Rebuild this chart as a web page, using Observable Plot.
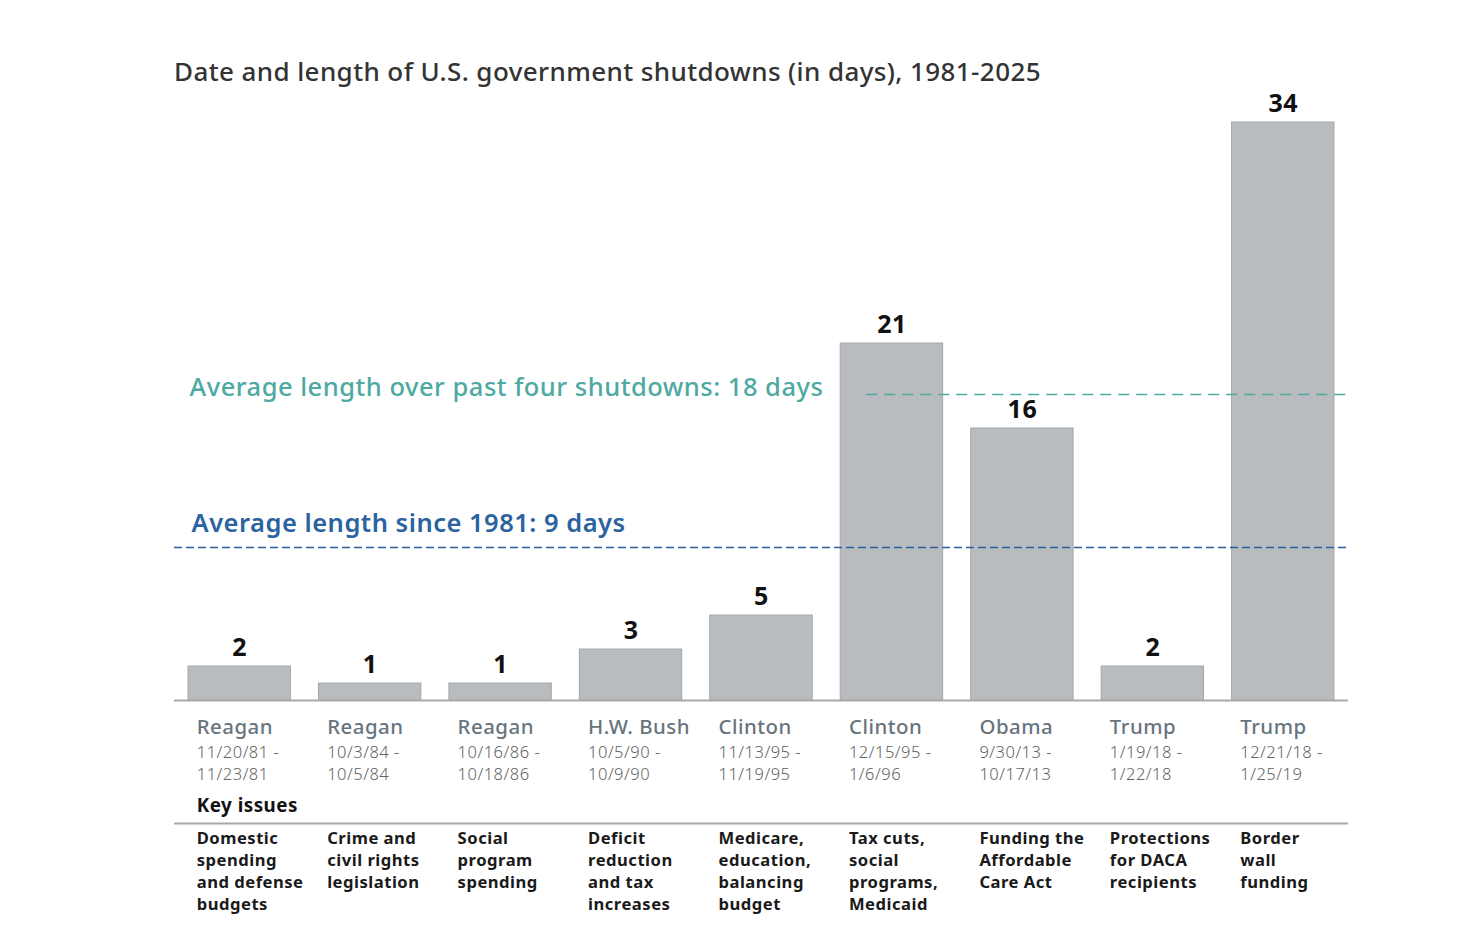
<!DOCTYPE html>
<html>
<head>
<meta charset="utf-8">
<script src="https://cdn.jsdelivr.net/npm/d3@7"></script>
<script src="https://cdn.jsdelivr.net/npm/@observablehq/plot@0.6"></script>
<style>
  body { margin: 0; background: #fff; font-family: "Noto Sans", Lato, sans-serif; }
  #title { height: 90px; box-sizing: border-box; padding: 55px 0 0 174px; font-size: 26px; letter-spacing: 0.4px; line-height: 32px; color: #333; font-weight: 500; }
  svg { overflow: visible; }
  svg text { letter-spacing: 0.5px; }
</style>
</head>
<body>
<div id="title">Date and length of U.S. government shutdowns (in days), 1981-2025</div>
<div id="chart"></div>
<script>
const keys = ["1981", "1984", "1986", "1990", "1995a", "1995b", "2013", "2018a", "2018b"];
const presidents = ["Reagan", "Reagan", "Reagan", "H.W. Bush", "Clinton", "Clinton", "Obama", "Trump", "Trump"];
const dates = [
  "11/20/81 -\n11/23/81", "10/3/84 -\n10/5/84", "10/16/86 -\n10/18/86", "10/5/90 -\n10/9/90",
  "11/13/95 -\n11/19/95", "12/15/95 -\n1/6/96", "9/30/13 -\n10/17/13", "1/19/18 -\n1/22/18", "12/21/18 -\n1/25/19"
];
const days = [2, 1, 1, 3, 5, 21, 16, 2, 34];
const issues = [
  "Domestic\nspending\nand defense\nbudgets",
  "Crime and\ncivil rights\nlegislation",
  "Social\nprogram\nspending",
  "Deficit\nreduction\nand tax\nincreases",
  "Medicare,\neducation,\nbalancing\nbudget",
  "Tax cuts,\nsocial\nprograms,\nMedicaid",
  "Funding the\nAffordable\nCare Act",
  "Protections\nfor DACA\nrecipients",
  "Border\nwall\nfunding"
];
const avgAll = 9;
const avgRecent = 18;
const avgAllLabel = "Average length since 1981: 9 days";
const avgRecentLabel = "Average length over past four shutdowns: 18 days";
const keyIssuesLabel = "Key issues";

const data = keys.map((k, i) => ({key: k, president: presidents[i], date: dates[i], days: days[i], issue: issues[i]}));

const teal = "#4ea9a2";
const blue = "#2b63a0";
const font = "'Noto Sans', Lato, sans-serif";

const chart = Plot.plot({
  width: 1470,
  height: 850,
  marginLeft: 174,
  marginRight: 122,
  marginTop: 32,
  marginBottom: 240,
  style: {fontFamily: font, overflow: "visible"},
  x: {domain: keys, paddingInner: 0.215, paddingOuter: 0.1075, round: false, axis: null},
  y: {domain: [0, 34], axis: null},
  marks: [
    Plot.barY(data, {x: "key", y: "days", fill: "#b9bcbf", stroke: "#a4a7aa", strokeWidth: 1}),
    Plot.ruleY([0], {stroke: "#a9a9a9", strokeWidth: 2}),
    Plot.ruleY([avgAll], {stroke: blue, strokeWidth: 1.5, strokeDasharray: "8,4"}),
    Plot.ruleY([{y: avgRecent, x1: keys[5], x2: keys[8]}], {y: "y", x1: "x1", x2: "x2", dx: 15, insetLeft: 11, stroke: teal, strokeWidth: 1.5, strokeDasharray: "11,7"}),
    Plot.text([avgRecentLabel], {frameAnchor: "left", y: [avgRecent], dx: 15, dy: -7, text: d => d, fill: teal, fontSize: 25.5, fontWeight: 500, textAnchor: "start"}),
    Plot.text([avgAllLabel], {frameAnchor: "left", y: [avgAll], dx: 17, dy: -24, text: d => d, fill: blue, fontSize: 25.5, fontWeight: 600, textAnchor: "start"}),
    Plot.text(data, {x: "key", y: "days", text: d => String(d.days), dy: -19, fontSize: 25, fontWeight: 700, fill: "#111"}),
    Plot.text(data, {x: "key", y: 0, text: "president", dx: -43, dy: 27, textAnchor: "start", fontSize: 20.4, fontWeight: 500, fill: "#67747e"}),
    Plot.text(data, {x: "key", y: 0, text: "date", dx: -43, dy: 42, textAnchor: "start", lineAnchor: "top", lineHeight: 22 / 16.5, fontSize: 16.5, fontWeight: 300, fill: "#626262"}),
    Plot.text([keyIssuesLabel], {x: [keys[0]], y: [0], text: d => d, dx: -43, dy: 105, textAnchor: "start", fontSize: 18.8, fontWeight: 700, fill: "#111"}),
    Plot.ruleY([0], {dy: 123, stroke: "#a9a9a9", strokeWidth: 2}),
    Plot.text(data, {x: "key", y: 0, text: "issue", dx: -43, dy: 128, textAnchor: "start", lineAnchor: "top", lineHeight: 22 / 16.6, fontSize: 16.6, fontWeight: 700, fill: "#1a1a1a"})
  ]
});
document.getElementById("chart").appendChild(chart);
</script>
</body>
</html>
